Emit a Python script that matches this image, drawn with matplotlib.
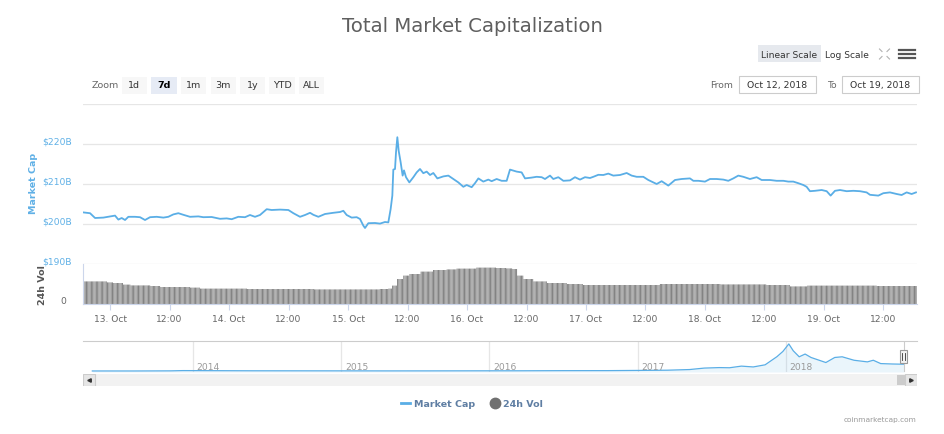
import numpy as np
import matplotlib
matplotlib.use('Agg')
import matplotlib.pyplot as plt
import matplotlib.transforms as mtransforms
from matplotlib.patches import Rectangle
from matplotlib.lines import Line2D

W, H = 944, 435
BLUE = '#5aaee6'
BLUE_TXT = '#5fb0e6'
GRID = '#e6e6e6'
AXIS = '#ccd6eb'
GRAY_TXT = '#666666'
TICK_FS = 6.6

# hours since Oct 12 2018 00:00 -> total market cap ($B)
cap_hours = [18.6, 19.97, 20.98, 22.66, 24.0, 25.01, 25.68, 26.35, 27.03, 27.7,
             29.04, 30.05, 31.06, 32.07, 33.41, 34.76, 35.76, 36.77, 37.78, 38.79,
             40.13, 41.82, 42.82, 44.5, 46.19, 47.53, 48.54, 49.88, 51.23, 52.23,
             53.24, 54.25, 55.6, 56.6, 58.29, 59.97, 60.98, 62.32, 63.33, 64.34,
             65.01, 66.02, 67.36, 69.04, 70.39, 71.06, 71.73, 72.74, 73.75, 74.42,
             75.09, 75.43, 76.1, 77.45, 78.45, 79.46, 80.13, 80.6, 80.94, 81.14,
             81.48, 81.68, 81.95, 82.22, 82.62, 83.02, 83.29, 83.7, 84.37, 85.18,
             85.85, 86.52, 87.19, 87.87, 88.54, 89.21, 90.02, 91.23, 92.24, 93.24,
             94.25, 95.26, 95.93, 96.94, 97.61, 98.29, 99.29, 100.3, 100.97, 101.98,
             102.99, 104.0, 104.67, 106.02, 107.02, 107.7, 109.04, 110.05, 111.06, 111.73,
             112.74, 113.41, 114.42, 115.43, 116.77, 117.78, 118.79, 119.8, 120.81, 121.48,
             122.49, 123.5, 124.5, 125.51, 126.86, 128.2, 129.21, 130.22, 131.56, 132.57,
             134.25, 135.26, 136.6, 137.95, 139.29, 140.97, 141.65, 142.65, 144.0, 145.01,
             146.35, 147.7, 148.7, 149.71, 150.72, 151.73, 153.07, 154.42, 155.43, 157.11,
             158.45, 159.8, 160.81, 161.81, 162.82, 163.83, 164.5, 165.17, 166.18, 167.53,
             168.54, 169.34, 170.22, 171.23, 172.57, 173.92, 175.26, 176.6, 177.28, 178.96,
             179.97, 181.31, 182.66, 183.66, 184.67, 185.68, 186.55]
cap_values = [202.9, 202.7, 201.5, 201.6, 201.9, 202.1, 201.1, 201.5, 201.0, 201.8,
              201.8, 201.7, 201.0, 201.7, 201.8, 201.6, 201.8, 202.4, 202.7, 202.3,
              201.8, 201.9, 201.7, 201.75, 201.3, 201.4, 201.2, 201.8, 201.7, 202.25,
              201.8, 202.25, 203.7, 203.5, 203.6, 203.5, 202.7, 201.8, 202.25, 202.8,
              202.3, 201.8, 202.5, 202.8, 203.0, 203.3, 202.25, 201.6, 201.7, 201.25,
              199.6, 199.0, 200.2, 200.25, 200.1, 200.5, 200.4, 203.75, 207.1, 213.6,
              213.75, 217.9, 221.7, 218.3, 215.4, 212.1, 213.4, 211.7, 210.4, 211.7,
              212.9, 213.75, 212.7, 213.1, 212.25, 212.75, 211.4, 211.9, 212.1, 211.25,
              210.4, 209.3, 209.75, 209.2, 210.2, 211.4, 210.6, 211.1, 210.7, 211.25,
              210.8, 210.8, 213.6, 213.1, 212.9, 211.4, 211.6, 211.8, 211.7, 211.25,
              212.1, 211.25, 211.7, 210.8, 210.9, 211.7, 211.1, 211.7, 211.5, 211.8,
              212.3, 212.25, 212.6, 212.1, 212.25, 212.75, 212.1, 211.8, 211.8, 211.0,
              210.0, 210.7, 209.6, 211.0, 211.25, 211.4, 210.8, 210.8, 210.6, 211.25,
              211.25, 211.1, 210.8, 211.4, 212.1, 211.8, 211.25, 211.7, 211.0, 211.0,
              210.8, 210.8, 210.6, 210.6, 210.2, 209.75, 209.3, 208.2, 208.3, 208.5,
              208.2, 207.1, 208.3, 208.5, 208.2, 208.3, 208.2, 207.9, 207.3, 207.1,
              207.7, 207.9, 207.5, 207.25, 207.9, 207.5, 207.9]

# 24h volume readings ($B), held until the next reading
vol_hours = [18.62, 23.33, 24.67, 26.69, 28.03, 32.07, 34.08, 40.13, 42.15, 51.56,
             65.01, 78.45, 80.13, 80.81, 81.82, 83.16, 84.5, 86.52, 89.21, 91.9,
             93.92, 97.95, 101.98, 104.0, 105.01, 106.02, 107.37, 109.38, 112.07, 116.1,
             119.47, 134.93, 147.03, 156.44, 161.15, 164.51, 176.61, 178.63]
vol_values = [11.3, 10.8, 10.5, 9.7, 9.3, 9.0, 8.5, 8.2, 7.7, 7.5,
              7.3, 7.5, 7.7, 9.2, 12.5, 14.2, 15.0, 16.2, 17.0, 17.3,
              17.7, 18.2, 18.0, 17.8, 17.5, 14.2, 12.5, 11.3, 10.5, 10.0,
              9.5, 10.0, 9.8, 9.5, 8.8, 9.2, 9.2, 9.0]

# navigator: full history (decimal year, $B)
nav_year = [2013.32, 2013.6, 2013.85, 2013.93, 2014.1, 2014.4, 2014.7, 2015.0, 2015.3, 2015.6,
            2015.9, 2016.2, 2016.5, 2016.8, 2017.0, 2017.2, 2017.35, 2017.45, 2017.55, 2017.62,
            2017.7, 2017.78, 2017.86, 2017.94, 2017.98, 2018.02, 2018.05, 2018.09, 2018.13, 2018.17,
            2018.27, 2018.33, 2018.38, 2018.46, 2018.55, 2018.59, 2018.64, 2018.72, 2018.8]
nav_cap = [1.6, 1.4, 5, 13, 11, 7, 6, 5, 3.7, 4.5,
           6, 7, 11, 12, 18, 25, 45, 90, 105, 100,
           150, 125, 190, 440, 600, 830, 620, 436, 520, 415,
           260, 415, 436, 330, 280, 330, 228, 215, 208]
nav_years_lbl = [2014, 2015, 2016, 2017, 2018]
sel_end = 2018.795

price_ticks = [190, 200, 210, 220, 230]
price_labels = ['$190B', '$200B', '$210B', '$220B', '']
x_ticks = [24, 36, 48, 60, 72, 84, 96, 108, 120, 132, 144, 156, 168, 180]
x_labels = ['13. Oct', '12:00', '14. Oct', '12:00', '15. Oct', '12:00', '16. Oct', '12:00',
            '17. Oct', '12:00', '18. Oct', '12:00', '19. Oct', '12:00']
zoom_btns = ['1d', '7d', '1m', '3m', '1y', 'YTD', 'ALL']

plt.rcParams['font.family'] = ['DejaVu Sans']


def box(x0, y0, x1, y1):
    return [x0 / W, 1 - y1 / H, (x1 - x0) / W, (y1 - y0) / H]


def fx(x):
    return x / W


def fy(y):
    return 1 - y / H


fig = plt.figure(figsize=(W / 100, H / 100), dpi=100)
up4 = mtransforms.ScaledTranslation(0, 0.04, fig.dpi_scale_trans)
XLIM = (18.55, 186.76)

# --- price pane
ax = fig.add_axes(box(83, 105, 917, 265))
ax.plot(cap_hours, cap_values, color=BLUE, lw=1.3, solid_joinstyle='round')
ax.set_xlim(*XLIM)
ax.set_ylim(190, 230)
ax.set_yticks(price_ticks)
ax.set_yticklabels(price_labels)
ax.tick_params(axis='y', length=0, pad=8, labelsize=TICK_FS, labelcolor=BLUE_TXT)
ax.set_xticks([])
ax.yaxis.grid(True, color=GRID, lw=0.9)
ax.set_axisbelow(True)
for s in ax.spines.values():
    s.set_visible(False)
for lbl in ax.get_yticklabels():
    lbl.set_transform(lbl.get_transform() + up4)
fig.text(fx(33), fy(183), 'Market Cap', rotation=90, ha='center', va='center',
         color=BLUE_TXT, fontsize=6.8, fontweight='bold')

# --- volume pane
axv = fig.add_axes(box(83, 265, 917, 305))
bar_t = np.arange(18.75, 186.76, 0.25)
idx = np.searchsorted(vol_hours, bar_t, side='right') - 1
bar_h = np.array(vol_values)[np.clip(idx, 0, None)]
axv.bar(bar_t, bar_h, width=0.19, color='#7c7c7c', linewidth=0, snap=False)
axv.set_xlim(*XLIM)
axv.set_ylim(0, 20)
axv.set_yticks([0])
axv.set_yticklabels(['0'])
axv.tick_params(axis='y', length=0, pad=12, labelsize=TICK_FS, labelcolor=GRAY_TXT)
for lbl in axv.get_yticklabels():
    lbl.set_transform(lbl.get_transform() + up4)
axv.set_xticks(x_ticks)
axv.set_xticklabels(x_labels)
axv.tick_params(axis='x', length=4, width=0.8, color=AXIS, pad=3,
                labelsize=TICK_FS, labelcolor=GRAY_TXT)
for k in ['top', 'right']:
    axv.spines[k].set_visible(False)
axv.spines['left'].set_color(AXIS)
axv.spines['bottom'].set_color(AXIS)
axv.spines['left'].set_linewidth(0.8)
axv.spines['bottom'].set_linewidth(0.8)
fig.text(fx(42.5), fy(285), '24h Vol', rotation=90, ha='center', va='center',
         color='#555555', fontsize=6.8, fontweight='bold')

# --- navigator
axn = fig.add_axes(box(83, 342, 917, 373))
axn.plot(nav_year, nav_cap, color=BLUE, lw=0.9)
axn.fill_between(nav_year, nav_cap, -30, color=BLUE, alpha=0.12, lw=0)
axn.set_xlim(2013.257, 2018.885)
axn.set_ylim(-30, 920)
axn.set_xticks(nav_years_lbl)
axn.set_xticklabels([])
axn.set_yticks([])
axn.tick_params(axis='x', length=0)
axn.xaxis.grid(True, color=GRID, lw=0.9)
axn.set_axisbelow(True)
for k in ['bottom', 'left', 'right']:
    axn.spines[k].set_visible(False)
axn.spines['top'].set_color('#cccccc')
axn.spines['top'].set_linewidth(0.8)
right3 = mtransforms.ScaledTranslation(0.035, 0, fig.dpi_scale_trans)
trn = mtransforms.blended_transform_factory(axn.transData, axn.transAxes)
for yr in nav_years_lbl:
    axn.text(yr, 0.17, str(yr), transform=trn + right3, ha='left', va='center',
             fontsize=6.6, color='#999999')
axn.axvline(sel_end, color='#cccccc', lw=0.8)
axn.add_patch(Rectangle((sel_end - 0.024, 0.28), 0.047, 0.42, transform=trn,
                        facecolor='#f2f2f2', edgecolor='#999999', lw=0.8, zorder=5))
for dx in (-0.008, 0.008):
    axn.plot([sel_end + dx, sel_end + dx], [0.38, 0.6], transform=trn,
             color='#333333', lw=0.6, zorder=6)

# --- scrollbar (ui chrome, in pixels)
axs = fig.add_axes(box(83, 375, 917, 387))
axs.set_xlim(0, 834)
axs.set_ylim(0, 12)
axs.axis('off')
axs.add_patch(Rectangle((0, 0), 834, 12, facecolor='#f2f2f2', lw=0))
axs.add_patch(Rectangle((814, 1), 8, 10, facecolor='#cccccc', lw=0))
for x0, mk in ((0, '<'), (822, '>')):
    axs.add_patch(Rectangle((x0, 0), 12, 12, facecolor='#e6e6e6',
                            edgecolor='#cccccc', lw=0.8))
    axs.plot(x0 + 6, 6, marker=mk, color='#333333', markersize=2.5)

# --- title and controls
fig.text(0.5, fy(27), 'Total Market Capitalization', ha='center', va='center',
         fontsize=14.2, color='#5f5f5f')
fig.text(fx(92), fy(86), 'Zoom', ha='left', va='center', fontsize=6.8, color=GRAY_TXT)
btn_left = [121.7, 151, 181, 210.7, 240, 269.3, 299]
btn_w = [25, 25.7, 25, 25, 25, 25.7, 25.3]
for lab, x0, w in zip(zoom_btns, btn_left, btn_w):
    sel = lab == '7d'
    fig.patches.append(Rectangle((fx(x0), fy(94.5)), w / W, 17 / H,
                                 transform=fig.transFigure, lw=0,
                                 facecolor='#e6ebf5' if sel else '#f7f7f7'))
    fig.text(fx(x0 + w / 2), fy(85.5), lab, ha='center', va='center', fontsize=6.8,
             color='#000000' if sel else '#333333',
             fontweight='bold' if sel else 'normal')

fig.patches.append(Rectangle((fx(758.3), fy(63.3)), 62.4 / W, 17.3 / H,
                             transform=fig.transFigure, lw=0, facecolor='#e6e9ee'))
fig.text(fx(789.5), fy(55), 'Linear Scale', ha='center', va='center', fontsize=6.6,
         color='#333333')
fig.text(fx(847), fy(55), 'Log Scale', ha='center', va='center', fontsize=6.6,
         color='#333333')
# fullscreen corners
for sx, sy in ((-1, -1), (1, -1), (-1, 1), (1, 1)):
    cx, cy = 884.5 + sx * 2.5, 55 + sy * 2.5
    fig.add_artist(Line2D([fx(cx), fx(cx + sx * 2.5)], [fy(cy), fy(cy + sy * 2.5)],
                          color='#b0b0b0', lw=0.8))
for yy in (51, 55, 59):
    fig.add_artist(Line2D([fx(899), fx(915)], [fy(yy), fy(yy)], color='#555555', lw=1.6))

fig.text(fx(733), fy(85), 'From', ha='right', va='center', fontsize=6.7, color=GRAY_TXT)
fig.text(fx(837), fy(85), 'To', ha='right', va='center', fontsize=6.7, color=GRAY_TXT)
for x0, txt in ((739.3, 'Oct 12, 2018'), (842.3, 'Oct 19, 2018')):
    fig.patches.append(Rectangle((fx(x0), fy(94)), 76.4 / W, 16.7 / H,
                                 transform=fig.transFigure, lw=0.8,
                                 facecolor='white', edgecolor='#cccccc'))
    fig.text(fx(x0 + 38.2), fy(85.5), txt, ha='center', va='center', fontsize=6.7,
             color='#333333')

# --- legend and credit
handles = [Line2D([], [], color=BLUE, lw=2),
           Line2D([], [], marker='o', color='#707070', linestyle='none', markersize=7.5)]
leg = fig.legend(handles, ['Market Cap', '24h Vol'], loc='center',
                 bbox_to_anchor=(fx(472), fy(405)), ncol=2, frameon=False,
                 handlelength=1.0, handletextpad=0.4, columnspacing=1.6,
                 prop={'weight': 'bold', 'size': 6.8})
for t in leg.get_texts():
    t.set_color('#5f7ea3')
fig.text(fx(917), fy(420), 'coinmarketcap.com', ha='right', va='center',
         fontsize=5.3, color='#999999')

fig.savefig('out.png', dpi=100)
